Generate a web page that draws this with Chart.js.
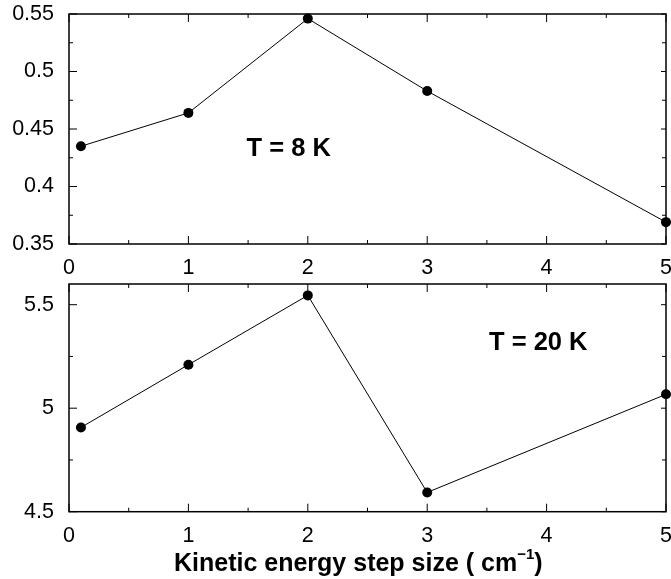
<!DOCTYPE html>
<html>
<head>
<meta charset="utf-8">
<script src="https://cdn.jsdelivr.net/npm/chart.js@4"></script>
<style>
  html, body { margin: 0; padding: 0; background: #fff; }
  body { width: 671px; height: 579px; position: relative; overflow: hidden; font-family: 'Liberation Sans', Arial, sans-serif; }
  .panel { position: absolute; left: 0; width: 671px; }
  #xtitle { position: absolute; left: 174px; top: 550px; font-weight: bold; font-size: 25px; line-height: 25px; white-space: nowrap; color: #000; }
  #xtitle .sup { font-size: 15px; position: relative; top: -12px; }
</style>
</head>
<body>
<div class="panel" style="top:0;height:279px"><canvas id="top" width="671" height="279"></canvas></div>
<div class="panel" style="top:279px;height:300px"><canvas id="bottom" width="671" height="300"></canvas></div>
<div id="xtitle">Kinetic energy step size ( cm<span class="sup">−1</span>)</div>
<script>
// step sizes (cm^-1) and values for the two temperatures
const stepSizes = [0.1, 1, 2, 3, 5]
const values8K = [0.435, 0.464, 0.546, 0.483, 0.369]
const values20K = [4.907, 5.21, 5.545, 4.593, 5.067]

const xTicks = [0, 1, 2, 3, 4, 5]
const yTicks8K = [0.35, 0.4, 0.45, 0.5, 0.55]
const yTicks20K = [4.5, 5, 5.5]

const note8K = 'T = 8 K'
const note20K = 'T = 20 K'

const tickFont = { family: "'Liberation Sans', Arial, sans-serif", size: 21.5 }

// frame with inward ticks on all four sides, plus the panel label
const framePlugin = {
  id: 'frame',
  beforeDatasetsDraw(chart, args, opts) {
    const { ctx, chartArea: a, scales } = chart
    const x = scales.x, y = scales.y
    ctx.save()
    ctx.strokeStyle = '#000'
    ctx.lineWidth = 1.5
    ctx.strokeRect(a.left, a.top, a.right - a.left, a.bottom - a.top)
    ctx.lineWidth = 1
    ctx.beginPath()
    for (let v = x.min; v <= x.max + 1e-9; v += 0.5) {
      const px = x.getPixelForValue(v)
      const major = Math.abs(v - Math.round(v)) < 1e-9
      const len = major ? 8 : 4
      ctx.moveTo(px, a.bottom); ctx.lineTo(px, a.bottom - len)
      ctx.moveTo(px, a.top); ctx.lineTo(px, a.top + len)
    }
    const step = opts.yMinor
    for (let k = Math.ceil(y.min / step - 1e-9); k * step <= y.max + 1e-9; k++) {
      const v = k * step
      const py = y.getPixelForValue(v)
      const major = opts.yTicks.some((t) => Math.abs(t - v) < 1e-9)
      ctx.moveTo(a.left, py); ctx.lineTo(a.left + (major ? 8 : 4), py)
      ctx.moveTo(a.right, py); ctx.lineTo(a.right - (major ? 5 : 4), py)
    }
    ctx.stroke()
    ctx.restore()
  },
  afterDatasetsDraw(chart, args, opts) {
    const { ctx, scales } = chart
    ctx.save()
    ctx.fillStyle = '#000'
    ctx.font = "bold 25.5px 'Liberation Sans', Arial, sans-serif"
    ctx.textAlign = 'center'
    ctx.textBaseline = 'middle'
    ctx.fillText(opts.note, scales.x.getPixelForValue(opts.noteX), scales.y.getPixelForValue(opts.noteY))
    ctx.restore()
  }
}

function makePanel(id, values, yMin, yMax, yTicks, yMinor, note, noteX, noteY, padTop, xAxisHeight) {
  return new Chart(document.getElementById(id), {
    type: 'line',
    data: {
      datasets: [{
        data: stepSizes.map((s, i) => ({ x: s, y: values[i] })),
        borderColor: '#000',
        borderWidth: 1,
        backgroundColor: '#000',
        pointRadius: 5,
        pointBorderWidth: 0,
        pointBackgroundColor: '#000',
        tension: 0,
        clip: false
      }]
    },
    options: {
      responsive: false,
      animation: false,
      events: [],
      layout: { padding: { left: 0, right: 4, top: padTop, bottom: 0 } },
      plugins: {
        legend: { display: false },
        tooltip: { enabled: false },
        frame: { yMinor: yMinor, yTicks: yTicks, note: note, noteX: noteX, noteY: noteY }
      },
      scales: {
        x: {
          type: 'linear',
          min: 0,
          max: 5,
          grid: { display: false, drawTicks: false },
          border: { display: false },
          afterBuildTicks: (s) => { s.ticks = xTicks.map((v) => ({ value: v })) },
          afterFit: (s) => { s.height = xAxisHeight; s.paddingLeft = 0; s.paddingRight = 0 },
          ticks: { color: '#000', font: tickFont, padding: 11, maxRotation: 0, callback: (v) => String(v) }
        },
        y: {
          min: yMin,
          max: yMax,
          grid: { display: false, drawTicks: false },
          border: { display: false },
          afterBuildTicks: (s) => { s.ticks = yTicks.map((v) => ({ value: v })) },
          afterFit: (s) => { s.width = 69; s.paddingTop = 0; s.paddingBottom = 0 },
          ticks: { color: '#000', font: tickFont, padding: 15, callback: (v) => String(v) }
        }
      }
    },
    plugins: [framePlugin]
  })
}

makePanel('top', values8K, 0.35, 0.55, yTicks8K, 0.025, note8K, 1.84, 0.433, 14, 35)
makePanel('bottom', values20K, 4.5, 5.6, yTicks20K, 0.25, note20K, 3.93, 5.315, 3.5, 67.3)
</script>
</body>
</html>
